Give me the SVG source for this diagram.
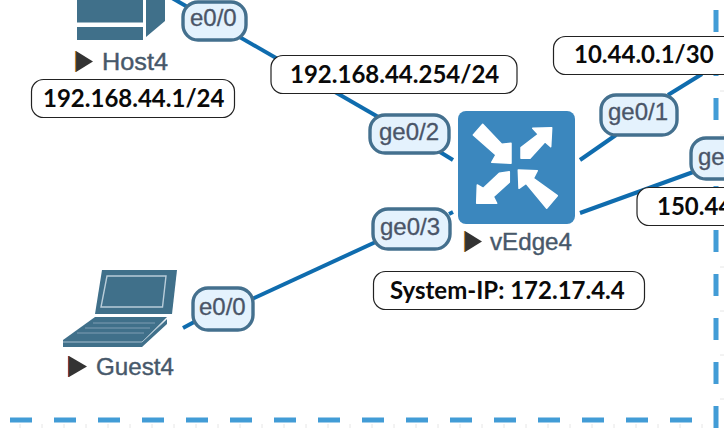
<svg xmlns="http://www.w3.org/2000/svg" width="724" height="428" viewBox="0 0 724 428">
<defs>
<filter id="soft" filterUnits="userSpaceOnUse" x="0" y="-10" width="724" height="448"><feGaussianBlur stdDeviation="0.6"/></filter>
<filter id="softer" filterUnits="userSpaceOnUse" x="0" y="-10" width="724" height="448"><feGaussianBlur stdDeviation="0.4"/></filter>
</defs>
<style>
.ip{fill:#fff;stroke:#222;stroke-width:1.2}
.ipt{font-family:"Lato","Liberation Sans",sans-serif;font-weight:700;font-size:24px;fill:#0a0a0a}
.pill{fill:#e4f2fd;stroke:#44708e;stroke-width:3.4}
.pt{font-family:"Liberation Sans",Arial,sans-serif;font-size:24px;fill:#4a5568;stroke:#4a5568;stroke-width:.3}
.nl{font-family:"Liberation Sans",Arial,sans-serif;font-size:24px;fill:#47586a;stroke:#47586a;stroke-width:.4}
.tri{fill:#333}
.edge{stroke:#0f6cae;stroke-width:4;fill:none}
.dash{stroke:#439cd6;stroke-width:5;fill:none;stroke-dasharray:22 22}
.tick{stroke:#e6e6e6;stroke-width:1;fill:none}
.ic{fill:#3f6f8a}
</style>
<rect width="724" height="428" fill="#fff"/>
<g id="frame">
<path class="tick" d="M20 424V428M42 424V428M64 424V428M86 424V428M108 424V428M130 424V428M152 424V428M174 424V428M196 424V428M218 424V428M240 424V428M262 424V428M284 424V428M306 424V428M328 424V428M350 424V428M372 424V428M394 424V428M416 424V428M438 424V428M460 424V428M482 424V428M504 424V428M526 424V428M548 424V428M570 424V428M592 424V428M614 424V428M636 424V428M658 424V428M680 424V428M702 424V428"/>
<path class="tick" d="M720 47H724M720 91H724M720 135H724M720 179H724M720 223H724M720 267H724M720 311H724M720 355H724M720 399H724"/>
<path class="dash" d="M10 420H692" filter="url(#softer)"/>
<path class="dash" d="M716 10V428" filter="url(#softer)"/>
</g>
<g id="connectors">
<path class="edge" d="M172 -2L380 118"/>
<path class="edge" d="M440 152L453 160"/>
<path class="edge" d="M580 160L616 135"/>
<path class="edge" d="M668 95L702 74"/>
<path class="edge" d="M580 213L696 171"/>
<path class="edge" d="M183 328L196 321"/>
<path class="edge" d="M252 299L380 240"/>
<path class="edge" d="M449 214L453 212"/>
</g>
<g id="Host4">
<g filter="url(#soft)">
<rect class="ic" x="77" y="-3" width="66" height="25.500"/>
<rect class="ic" x="77" y="27" width="66" height="13"/>
<path class="ic" d="M146 -3H165V21L146 37Z"/>
</g>
<path class="tri" d="M76 51L93 61.500L76 72Z"/>
<path d="M75.500 51V72" stroke="#c8842c" stroke-width="1.200"/>
<text class="nl" x="102" y="70" textLength="66" lengthAdjust="spacingAndGlyphs">Host4</text>
</g>
<g id="Guest4">
<g filter="url(#soft)">
<path class="ic" d="M102 270H177L172 314H95Z"/>
<path d="M107 276H166L162.500 307H101Z" fill="none" stroke="#b9cdd9" stroke-width="1.400"/>
<path class="ic" d="M95 317H167L142 342H63V340Z"/>
<path d="M93 323H155M85 328H150M77 333H144" stroke="#7f9fb3" stroke-width="1" fill="none"/>
<path class="ic" d="M63 342H142L167 319V324L142 347H63Z"/>
<path d="M63 342H142L167 319" stroke="#a8c0cf" stroke-width="1" fill="none"/>
</g>
<path class="tri" d="M69 356L87 366.500L69 377Z"/>
<path d="M68.500 356V377" stroke="#8c3a30" stroke-width="1.200"/>
<text class="nl" x="96" y="375" textLength="78" lengthAdjust="spacingAndGlyphs">Guest4</text>
</g>
<g id="vEdge4">
<rect x="458" y="111" width="117" height="113" rx="8" fill="#3a87be" filter="url(#softer)"/>
<g fill="#fff" stroke="#fff" stroke-width="1.500" stroke-linejoin="round" filter="url(#soft)">
<path d="M482.700 124.300L501.700 144.300L511 143.300V163.300L491.700 162.300L496 155L473.300 135Z"/>
<path d="M551.700 127.700L550.700 146.700L545 141.700L530 158.300H521V147.700L538.300 134.300L532.700 128.300Z"/>
<path d="M476.700 203.300L477.300 185L483.300 188.300L499.300 173.300L509.300 171.700V182.300L493.300 196.700L496.700 203.300Z"/>
<path d="M518.300 170L537.300 170.700L533.300 178.300L557.300 195.700L546.700 208.300L526 183.300L519 188.300Z"/>
</g>
<path class="tri" d="M465 231L482 241.500L465 252Z"/>
<path d="M464.500 231V252" stroke="#c8842c" stroke-width="1.200"/>
<text class="nl" x="490" y="250" textLength="82" lengthAdjust="spacingAndGlyphs">vEdge4</text>
</g>
<g id="ports">
<rect class="pill" x="183" y="2" width="63" height="38" rx="15"/>
<text class="pt" x="190" y="26">e0/0</text>
<rect class="pill" x="370" y="115" width="79" height="38" rx="15"/>
<text class="pt" x="379" y="140">ge0/2</text>
<rect class="pill" x="601" y="95" width="76" height="40" rx="15"/>
<text class="pt" x="608" y="120">ge0/1</text>
<rect class="pill" x="691" y="138" width="60" height="41" rx="15"/>
<text class="pt" x="698" y="165">ge</text>
<rect class="pill" x="373" y="209" width="77" height="40" rx="15"/>
<text class="pt" x="380" y="235">ge0/3</text>
<rect class="pill" x="193" y="288" width="60" height="42" rx="15"/>
<text class="pt" x="199" y="315">e0/0</text>
</g>
<g id="addresses">
<rect class="ip" x="31.500" y="79.500" width="203" height="38" rx="12"/>
<text class="ipt" x="43" y="107">192.168.44.1/24</text>
<rect class="ip" x="271" y="55.500" width="246" height="38" rx="12"/>
<text class="ipt" x="290" y="83">192.168.44.254/24</text>
<rect class="ip" x="553.500" y="36.500" width="190" height="38" rx="12"/>
<text class="ipt" x="574" y="63">10.44.0.1/30</text>
<rect class="ip" x="637" y="187.500" width="110" height="38" rx="12"/>
<text class="ipt" x="657" y="215">150.44</text>
<rect class="ip" x="373.500" y="271.500" width="271" height="38" rx="12"/>
<text class="ipt" x="390" y="299">System-IP: 172.17.4.4</text>
</g>
</svg>
